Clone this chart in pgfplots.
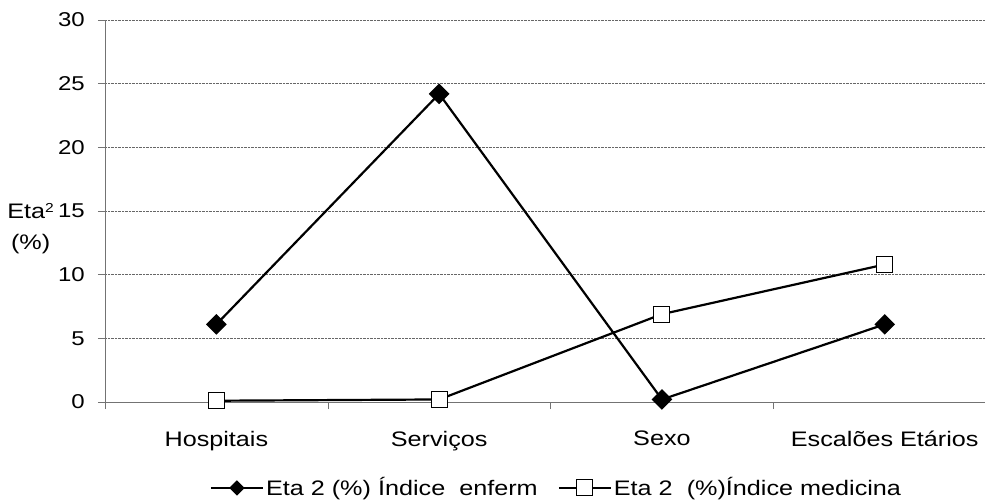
\documentclass[border=0pt]{standalone}
\usepackage{fontspec}
\setmainfont[FakeStretch=1.2]{Liberation Sans}
\usepackage{pgfplots}
\pgfplotsset{compat=1.18}
\begin{document}
\fontsize{21}{25}\selectfont
\begin{tikzpicture}
\useasboundingbox (-105pt,-97pt) rectangle (880pt,402pt);
\begin{axis}[
  scale only axis,
  width=880pt, height=382pt,
  xmin=-0.5, xmax=3.45,
  ymin=0, ymax=30,
  ytick={0,5,...,30},
  xtick={0,1,2,3},
  xticklabels={Hospitais,Serviços,Sexo,Escalões Etários},
  x tick style={draw=none},
  extra x ticks={-0.5,0.5,1.5,2.5},
  extra x tick labels={},
  extra x tick style={x tick style={draw=black!55, thin}, major tick length=7pt, tick align=outside, grid=none},
  y tick style={draw=black!55, thin},
  major tick length=7pt,
  tick align=outside,
  axis x line*=bottom,
  axis y line*=left,
  axis line style={draw=black!55, thin, -},
  ymajorgrids,
  major grid style={densely dotted, black!60, thin},
  /pgf/number format/assume math mode=true,
  yticklabel style={xshift=-6pt, font=\fontsize{20}{24}\selectfont},
  xticklabel style={yshift=-15pt, font=\fontsize{21}{25}\selectfont},
  ylabel={Eta\raisebox{0.55ex}{\fontsize{13}{13}\selectfont 2}\\(\%)},
  ylabel style={at={(axis description cs:-0.0845,0.455)}, anchor=center, rotate=-90, align=center, font=\fontsize{21}{31}\selectfont},
  legend style={at={(axis description cs:0.513,-0.225)}, anchor=center, draw=none, legend columns=2,
    font=\fontsize{21}{25}\selectfont, /tikz/every even column/.append style={column sep=18pt},
    nodes={inner xsep=2pt}},
  legend image code/.code={\draw[mark repeat=2,mark phase=2,#1] plot coordinates {(0pt,0pt)(26pt,0pt)(52pt,0pt)};},
  clip=false,
]
\addplot[black, line width=2.2pt, mark=square*, mark size=6.2pt, mark options={rotate=45, fill=black, solid},
  legend image post style={mark size=4.3pt}]
  coordinates {(0,6.1) (1,24.2) (2,0.2) (3,6.1)};
\addlegendentry{Eta 2 (\%) Índice\ \ enferm}
\addplot[black, line width=2.2pt, mark=square*, mark size=8pt, mark options={fill=white, line width=1pt, solid}]
  coordinates {(0,0.1) (1,0.2) (2,6.9) (3,10.8)};
\addlegendentry{Eta 2\ \ (\%)Índice medicina}
\end{axis}
\end{tikzpicture}
\end{document}
